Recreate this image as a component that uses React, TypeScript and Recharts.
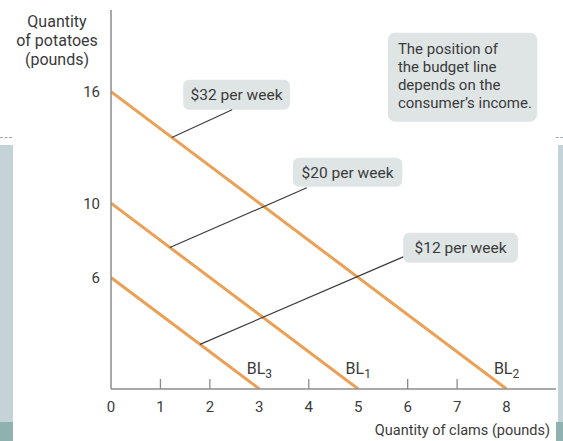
import { LineChart, Line, XAxis, YAxis, ReferenceArea, ReferenceLine } from "recharts"

// budget lines: income / price of potatoes ($2), income / price of clams ($4)
const lineSubs = ["2", "1", "3"]
const potatoIntercepts = [16, 10, 6]
const clamIntercepts = [8, 5, 3]
const incomeLabels = ["$32 per week", "$20 per week", "$12 per week"]
const xTicks = [0, 1, 2, 3, 4, 5, 6, 7, 8]
const tickMarks = [1, 2, 4, 6, 7]
const yTicks = [6, 10, 16]
const yTitle = ["Quantity", "of potatoes", "(pounds)"]
const xTitle = "Quantity of clams (pounds)"
const noteLines = ["The position of", "the budget line", "depends on the", "consumer\u2019s income."]

const ORANGE = "#eaa055"
const TEXT = "#3a3a3a"
const AXIS = "#8c8c8c"
const BOX = "#dfe5e5"
const FONT = "Roboto, sans-serif"

// callout boxes [x1, x2, y1, y2] and leader lines [[x, y], [x, y]] in data units
const boxes = [
  [1.46, 3.62, 15.03, 16.65],
  [3.68, 5.89, 10.88, 12.45],
  [5.91, 8.23, 6.79, 8.41],
]
const leaders = [
  [[2.45, 15.03], [1.23, 13.54]],
  [[3.96, 10.83], [1.19, 7.62]],
  [[5.91, 7.11], [1.8, 2.4]],
]

const series = potatoIntercepts.map((p, i) => [
  { x: 0, y: p },
  { x: clamIntercepts[i], y: 0 },
])

const ClamTick = (props: any) => {
  const { x, y, payload } = props
  return (
    <g>
      {tickMarks.includes(payload.value) && (
        <line x1={x} x2={x} y1={y} y2={y - 10} stroke={AXIS} strokeWidth={1.3} />
      )}
      <text x={x} y={y + 23} textAnchor="middle" fill={TEXT} fontSize={15} fontFamily={FONT}>
        {payload.value}
      </text>
    </g>
  )
}

export default function App() {
  return (
    <div style={{ position: "absolute", left: 0, top: 0, width: 563, height: 441, background: "#fff" }}>
      <div style={{ position: "absolute", left: 0, top: 145, width: 13, height: 277, background: "#c4d3d7" }} />
      <div style={{ position: "absolute", left: 0, top: 422, width: 13, height: 19, background: "#8fb2b0" }} />
      <div style={{ position: "absolute", left: 558, top: 145, width: 5, height: 277, background: "#c4d3d7" }} />
      <div style={{ position: "absolute", left: 556, top: 422, width: 7, height: 19, background: "#8fb2b0" }} />
      <div style={{ position: "absolute", left: 0, top: 137, width: 12, borderTop: "1px dashed #9aa" }} />
      <div style={{ position: "absolute", left: 556, top: 137, width: 7, borderTop: "1px dashed #9aa" }} />
      <div style={{ position: "absolute", left: 0, top: 0 }}>
        <LineChart width={563} height={441} margin={{ top: 10, right: 7, left: 0, bottom: 0 }}>
          <XAxis
            type="number"
            dataKey="x"
            domain={[0, 9]}
            ticks={xTicks}
            allowDataOverflow
            height={52}
            stroke={AXIS}
            strokeWidth={1.5}
            tickLine={false}
            tickSize={0}
            tickMargin={0}
            tick={<ClamTick />}
            label={{ value: xTitle, position: "insideBottomRight", offset: 6, fill: TEXT, fontSize: 14.5, fontFamily: FONT }}
          />
          <YAxis
            type="number"
            dataKey="y"
            domain={[0, 20.4]}
            ticks={yTicks}
            allowDataOverflow
            width={111}
            stroke={AXIS}
            strokeWidth={1.5}
            tickLine={false}
            tickSize={0}
            tickMargin={11}
            tick={{ fill: TEXT, fontSize: 15, fontFamily: FONT }}
            label={() => (
              <text textAnchor="middle" fill={TEXT} fontSize={16} fontFamily={FONT}>
                {yTitle.map((t, i) => (
                  <tspan key={t} x={57} y={27 + i * 19}>{t}</tspan>
                ))}
              </text>
            )}
          />
          {series.map((d, i) => (
            <Line
              key={i}
              data={d}
              dataKey="y"
              type="linear"
              stroke={ORANGE}
              strokeWidth={3}
              dot={false}
              isAnimationActive={false}
              label={(p: any) =>
                p.index === 1 ? (
                  <text key={`bl-${i}`} x={p.x} y={p.y - 15} textAnchor="middle" fill={TEXT} fontSize={16} fontFamily={FONT}>
                    <tspan>BL</tspan>
                    <tspan dy={4} fontSize={12}>{lineSubs[i]}</tspan>
                  </text>
                ) : null
              }
            />
          ))}
          {leaders.map((s, i) => (
            <ReferenceLine
              key={`ld-${i}`}
              segment={[{ x: s[0][0], y: s[0][1] }, { x: s[1][0], y: s[1][1] }]}
              stroke="#3c3c3c"
              strokeWidth={1.2}
            />
          ))}
          {boxes.map((b, i) => (
            <ReferenceArea
              key={`bx-${i}`}
              x1={b[0]}
              x2={b[1]}
              y1={b[2]}
              y2={b[3]}
              fill={BOX}
              fillOpacity={1}
              stroke="none"
              radius={6}
              ifOverflow="visible"
              label={{ value: incomeLabels[i], position: "center", fill: TEXT, fontSize: 15.5, fontFamily: FONT }}
            />
          ))}
          <ReferenceArea
            x1={5.6}
            x2={8.62}
            y1={14.39}
            y2={19.18}
            fill={BOX}
            fillOpacity={1}
            stroke="none"
            radius={7}
            ifOverflow="visible"
            label={(p: any) => {
              const { x, y } = p.viewBox
              return (
                <text fill={TEXT} fontSize={15} fontFamily={FONT}>
                  {noteLines.map((t, i) => (
                    <tspan key={t} x={x + 10} y={y + 21 + i * 18}>{t}</tspan>
                  ))}
                </text>
              )
            }}
          />
        </LineChart>
      </div>
    </div>
  )
}
